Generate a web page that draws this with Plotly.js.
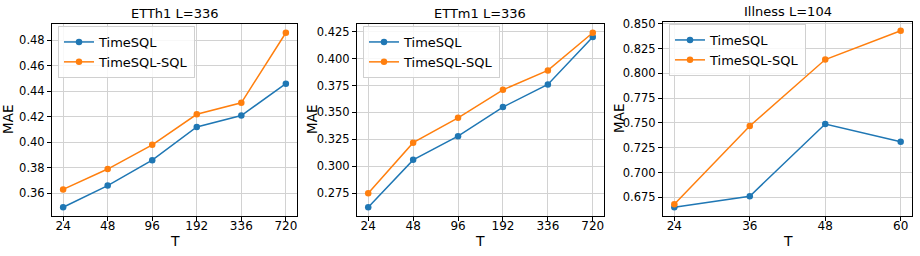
<!DOCTYPE html>
<html>
<head>
<meta charset="utf-8">
<script src="https://cdn.plot.ly/plotly-3.0.1.min.js"></script>
<style>html,body{margin:0;padding:0;background:#fff;}#chart{width:920px;height:256px;}</style>
</head>
<body>
<div id="chart"></div>
<script>
// Data
const horizonsETT = ['24', '48', '96', '192', '336', '720'];
const horizonsIll = ['24', '36', '48', '60'];

const etth1TimeSQL    = [0.349, 0.366, 0.386, 0.412, 0.421, 0.446];
const etth1TimeSQLSQL = [0.363, 0.379, 0.398, 0.422, 0.431, 0.486];

const ettm1TimeSQL    = [0.262, 0.306, 0.328, 0.355, 0.376, 0.420];
const ettm1TimeSQLSQL = [0.275, 0.322, 0.345, 0.371, 0.389, 0.424];

const illTimeSQL    = [0.665, 0.676, 0.749, 0.731];
const illTimeSQLSQL = [0.668, 0.747, 0.814, 0.843];

const titles = ['ETTh1 L=336', 'ETTm1 L=336', 'Illness L=104'];
const seriesNames = ['TimeSQL', 'TimeSQL-SQL'];
const xLabel = 'T';
const yLabel = 'MAE';
const yTicks1 = [0.36, 0.38, 0.40, 0.42, 0.44, 0.46, 0.48];
const yTicks2 = [0.275, 0.300, 0.325, 0.350, 0.375, 0.400, 0.425];
const yTicks3 = [0.675, 0.700, 0.725, 0.750, 0.775, 0.800, 0.825, 0.850];

const BLUE = '#1f77b4', ORANGE = '#ff7f0e';
const FONT = '"DejaVu Sans", sans-serif';
const W = 920, H = 256;

function mkTrace(x, y, name, color, ax, legend) {
  return {
    x: x, y: y, name: name, type: 'scatter', mode: 'lines+markers',
    xaxis: 'x' + (ax === 1 ? '' : ax), yaxis: 'y' + (ax === 1 ? '' : ax),
    legend: legend,
    line: {color: color, width: 1.5},
    marker: {color: color, size: 6.5, symbol: 'circle'}
  };
}

const data = [
  mkTrace(horizonsETT, etth1TimeSQL, seriesNames[0], BLUE, 1, 'legend'),
  mkTrace(horizonsETT, etth1TimeSQLSQL, seriesNames[1], ORANGE, 1, 'legend'),
  mkTrace(horizonsETT, ettm1TimeSQL, seriesNames[0], BLUE, 2, 'legend2'),
  mkTrace(horizonsETT, ettm1TimeSQLSQL, seriesNames[1], ORANGE, 2, 'legend2'),
  mkTrace(horizonsIll, illTimeSQL, seriesNames[0], BLUE, 3, 'legend3'),
  mkTrace(horizonsIll, illTimeSQLSQL, seriesNames[1], ORANGE, 3, 'legend3')
];

function yr(arrs) {
  const all = [].concat(...arrs);
  const mn = Math.min(...all), mx = Math.max(...all);
  const m = (mx - mn) * 0.05;
  return [mn - m, mx + m];
}

// panel pixel boxes [left, right, top, bottom]
const boxes = [[52, 297, 24, 216], [357, 604, 24, 216], [663, 912, 22, 216]];
const yTitleX = [8, 312, 619];
const yRanges = [yr([etth1TimeSQL, etth1TimeSQLSQL]), yr([ettm1TimeSQL, ettm1TimeSQLSQL]), yr([illTimeSQL, illTimeSQLSQL])];
const yTicks = [yTicks1, yTicks2, yTicks3];
const yFmt = ['.2f', '.3f', '.3f'];
const nCats = [horizonsETT.length, horizonsETT.length, horizonsIll.length];

const layout = {
  width: W, height: H,
  margin: {l: 0, r: 0, t: 0, b: 0},
  paper_bgcolor: '#fff', plot_bgcolor: '#fff',
  font: {family: FONT, size: 13, color: '#000'},
  showlegend: true,
  annotations: []
};

boxes.forEach((b, i) => {
  const sfx = i === 0 ? '' : String(i + 1);
  const xd = [b[0] / W, b[1] / W];
  const yd = [1 - b[3] / H, 1 - b[2] / H];
  const n = nCats[i];
  const pad = (n - 1) * 0.05;
  layout['xaxis' + sfx] = {
    domain: xd, anchor: 'y' + sfx, type: 'category',
    range: [-pad, n - 1 + pad],
    showgrid: true, gridcolor: '#d2d2d2', gridwidth: 1,
    showline: true, linecolor: '#000', linewidth: 1, mirror: true,
    ticks: 'outside', ticklen: 4, tickcolor: '#000', tickwidth: 1,
    ticklabelstandoff: -5,
    tickfont: {family: FONT, size: 12, color: '#000'},
    zeroline: false, fixedrange: true
  };
  layout['yaxis' + sfx] = {
    domain: yd, anchor: 'x' + sfx,
    range: yRanges[i],
    tickvals: yTicks[i], tickformat: yFmt[i],
    showgrid: true, gridcolor: '#d2d2d2', gridwidth: 1,
    showline: true, linecolor: '#000', linewidth: 1, mirror: true,
    ticks: 'outside', ticklen: 4, tickcolor: '#000', tickwidth: 1,
    tickfont: {family: FONT, size: 11.5, color: '#000'},
    zeroline: false, fixedrange: true
  };
  // subplot title
  layout.annotations.push({
    text: titles[i], xref: 'paper', yref: 'paper',
    x: (xd[0] + xd[1]) / 2, y: yd[1], xanchor: 'center', yanchor: 'bottom',
    yshift: 1, showarrow: false,
    font: {family: FONT, size: 13, color: '#000'}
  });
  // x-axis title
  layout.annotations.push({
    text: xLabel, xref: 'paper', yref: 'paper',
    x: (xd[0] + xd[1]) / 2, y: 1 - 241 / H, xanchor: 'center', yanchor: 'middle',
    showarrow: false,
    font: {family: FONT, size: 14, color: '#000'}
  });
  // y-axis title
  layout.annotations.push({
    text: yLabel, xref: 'paper', yref: 'paper', textangle: -90,
    x: yTitleX[i] / W, y: (yd[0] + yd[1]) / 2, xanchor: 'center', yanchor: 'middle',
    showarrow: false,
    font: {family: FONT, size: 13.5, color: '#000'}
  });
  layout[i === 0 ? 'legend' : 'legend' + (i + 1)] = {
    x: (b[0] + 6) / W, y: 1 - (b[2] + 2) / H, xanchor: 'left', yanchor: 'top',
    xref: 'paper', yref: 'paper',
    bgcolor: 'rgba(255,255,255,0.85)', bordercolor: '#d0d0d0', borderwidth: 1,
    font: {family: FONT, size: 13, color: '#000'},
    tracegroupgap: 0, itemwidth: 30
  };
});

Plotly.newPlot('chart', data, layout, {displayModeBar: false, staticPlot: true});
</script>
</body>
</html>
